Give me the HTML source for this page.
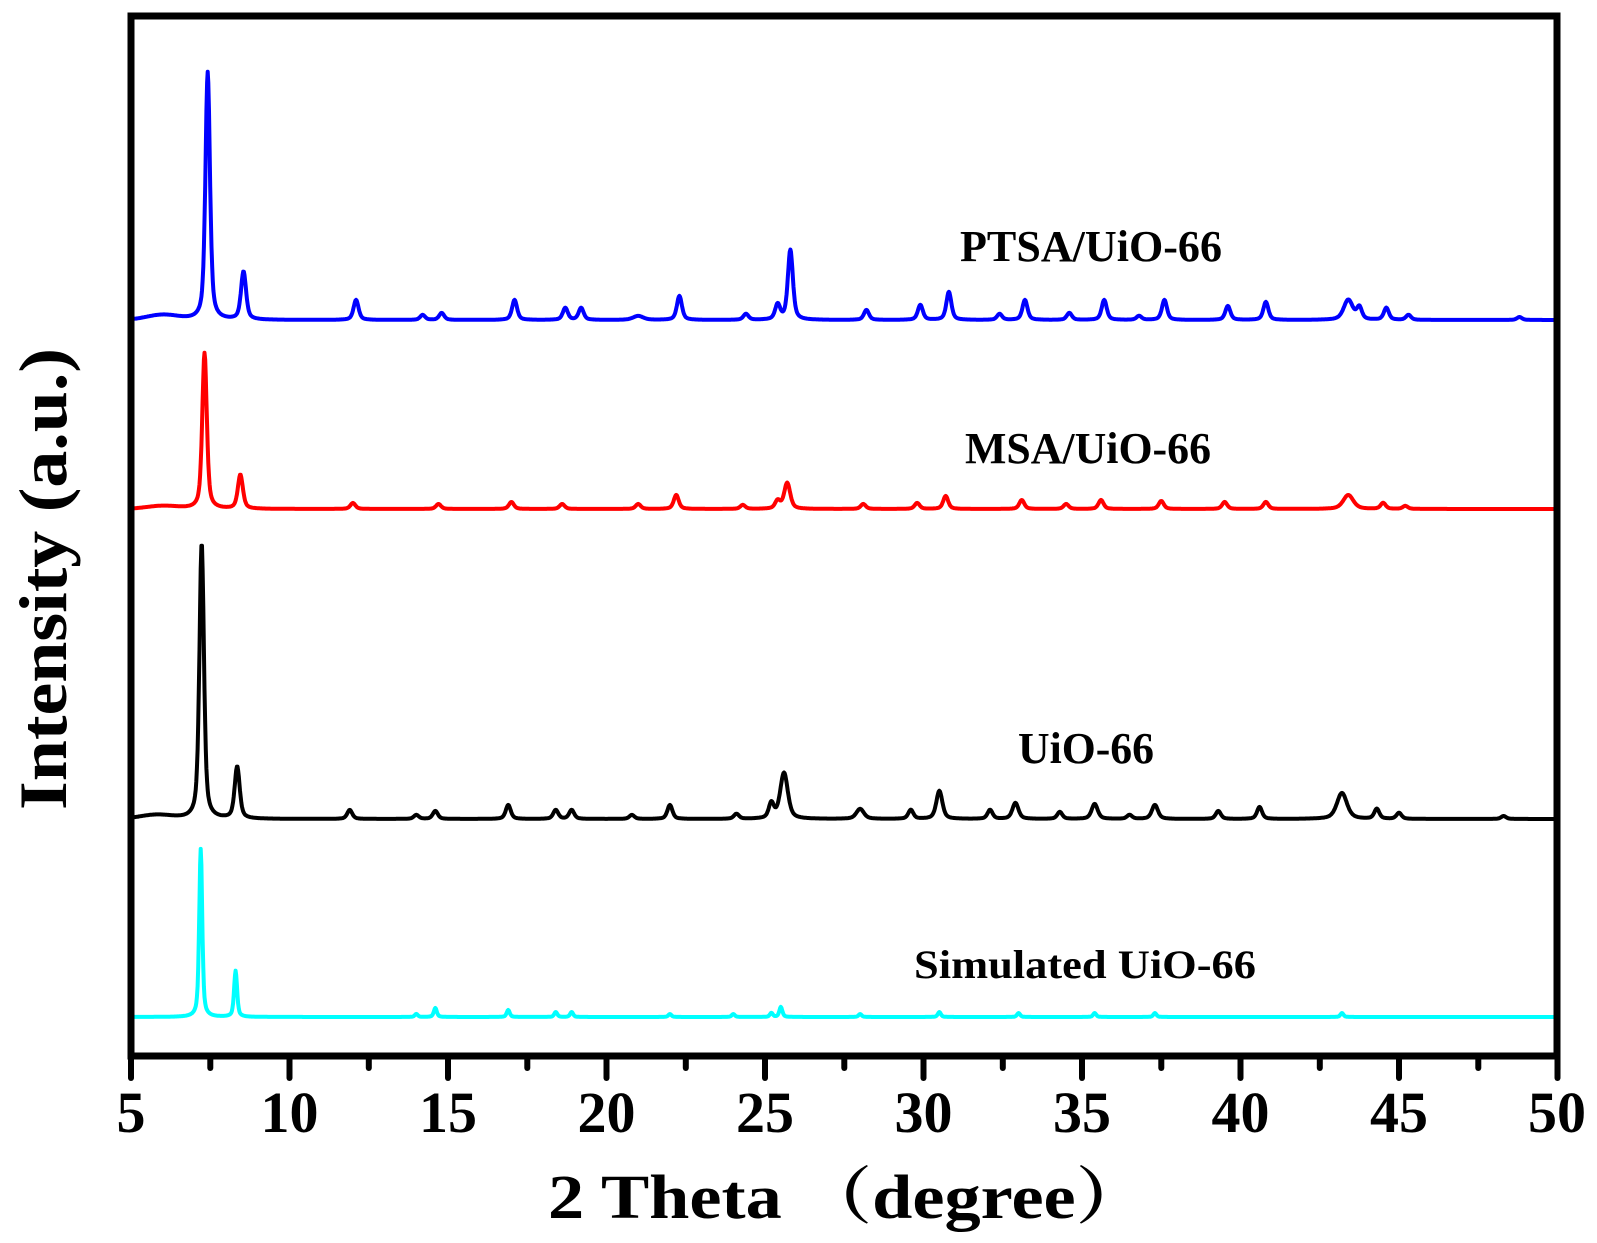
<!DOCTYPE html>
<html><head><meta charset="utf-8"><style>
html,body{margin:0;padding:0;background:#fff;}
svg{display:block;}
text{font-family:"Liberation Serif","Noto Serif CJK SC",serif;font-weight:bold;fill:#000;}
</style></head><body>
<svg id="s" width="1597" height="1243" xmlns="http://www.w3.org/2000/svg">
<g id="series"></g>
<rect x="131" y="16" width="1426" height="1040" fill="none" stroke="#000" stroke-width="7"/>
<g id="ticks" stroke="#000" stroke-width="6" stroke-linecap="round"></g>
<g font-size="58" text-anchor="middle">
<text x="131" y="1132">5</text><text x="289.5" y="1132">10</text><text x="448" y="1132">15</text>
<text x="606.5" y="1132">20</text><text x="765" y="1132">25</text><text x="923.5" y="1132">30</text>
<text x="1082" y="1132">35</text><text x="1240.5" y="1132">40</text><text x="1399" y="1132">45</text>
<text x="1557" y="1132">50</text>
</g>
<text x="548" y="1218" font-size="62" textLength="600" lengthAdjust="spacingAndGlyphs">2 Theta （degree）</text>
<text transform="translate(66,810) rotate(-90)" font-size="68" textLength="462" lengthAdjust="spacingAndGlyphs">Intensity (a.u.)</text>
<text x="960" y="261" font-size="44" textLength="262" lengthAdjust="spacingAndGlyphs">PTSA/UiO-66</text>
<text x="965" y="463" font-size="44" textLength="246" lengthAdjust="spacingAndGlyphs">MSA/UiO-66</text>
<text x="1018" y="763" font-size="44" textLength="136" lengthAdjust="spacingAndGlyphs">UiO-66</text>
<text x="914" y="978" font-size="40" textLength="342" lengthAdjust="spacingAndGlyphs">Simulated UiO-66</text>
</svg>
<script>
const X=t=>131+(t-5)*31.7;
function path(base,peaks,bump){
  let d='';
  for(let t=5;t<=50.0001;t+=0.02){
    let y=0;
    for(const p of peaks){const w=p[2]||0.1;const dx=t-p[0];
      y+=p[1]*(0.5*Math.exp(-dx*dx/(2*w*w*0.6))+0.5*w*w/(dx*dx+w*w));}
    if(bump)y+=bump(t);
    d+=(d?'L':'M')+X(t).toFixed(1)+','+(base-y).toFixed(1);
  }
  return d;
}
const S=[
 {c:'#0000ff',b:320,bump:t=>5*Math.exp(-((t-6)**2)/0.5),p:[[7.42,248,0.09],[8.55,48,0.1],[12.1,20],[14.2,5],[14.8,7],[17.1,20],[18.7,12],[19.2,12],[21,4,0.2],[22.3,24],[24.4,6],[25.4,15],[25.8,70,0.1],[28.2,10],[29.9,15],[30.8,28],[32.4,6],[33.2,20],[34.6,7],[35.7,20],[36.8,4],[37.6,20],[39.6,14],[40.8,18],[43.4,20,0.18],[43.75,12],[44.6,12],[45.3,5],[48.8,3]]},
 {c:'#ff0000',b:509,bump:t=>3*Math.exp(-((t-6)**2)/0.5),p:[[7.32,156,0.09],[8.45,34,0.1],[12,6],[14.7,5],[17,7],[18.6,5],[21,5],[22.2,14],[24.3,4],[25.4,8],[25.7,26,0.12],[28.1,5],[29.8,6],[30.7,13],[33.1,9],[34.5,5],[35.6,9],[37.5,8],[39.5,7],[40.8,7],[43.4,14,0.2],[44.5,6],[45.2,3]]},
 {c:'#000000',b:819,bump:t=>4*Math.exp(-((t-5.8)**2)/0.5),p:[[7.23,276,0.09],[8.35,52,0.1],[11.9,9],[14,4],[14.6,8],[16.9,14],[18.4,9],[18.9,9],[20.8,4],[22,14],[24.1,5],[25.2,15],[25.6,46,0.15],[28,10,0.15],[29.6,9],[30.5,28,0.12],[32.1,9],[32.9,16,0.12],[34.3,7],[35.4,15,0.12],[36.5,4],[37.3,14,0.12],[39.3,8],[40.6,12],[43.2,26,0.2],[44.3,10],[45,6],[48.3,3]]},
 {c:'#00ffff',b:1017,p:[[7.2,168,0.06],[8.3,46,0.06],[14,3,0.06],[14.6,9,0.06],[16.9,7,0.06],[18.4,5,0.06],[18.9,5,0.06],[22,3,0.06],[24,3,0.06],[25.2,4,0.06],[25.5,10,0.06],[28,3,0.06],[30.5,5,0.06],[33,4,0.06],[35.4,4,0.06],[37.3,4,0.06],[43.2,4,0.06]]}
];
const g=document.getElementById('series');let h='';
for(const s of S)h+=`<path d="${path(s.b,s.p,s.bump)}" fill="none" stroke="${s.c}" stroke-width="4" stroke-linejoin="round"/>`;
g.innerHTML=h;
let tk='';
for(let t=5;t<=50;t+=2.5){const x=X(t).toFixed(1);const maj=(t%5===0);
 tk+=`<line x1="${x}" y1="1058" x2="${x}" y2="${maj?1078:1068}"/>`;}
document.getElementById('ticks').innerHTML=tk;
</script>
</body></html>
